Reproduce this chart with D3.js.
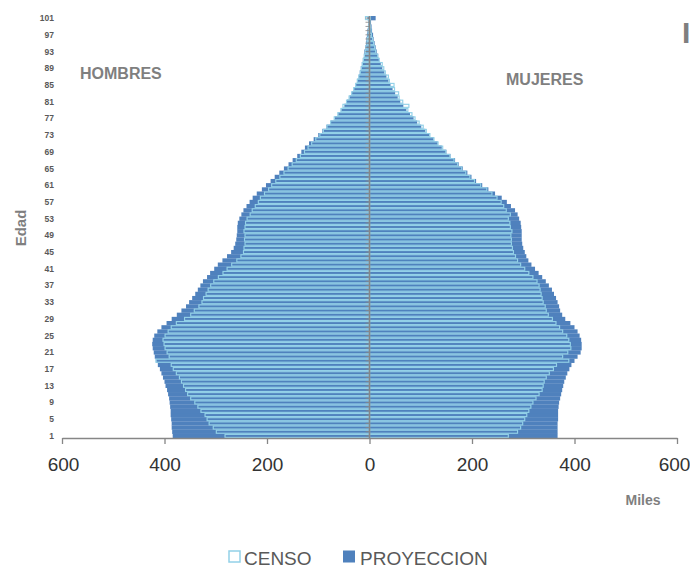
<!DOCTYPE html>
<html>
<head>
<meta charset="utf-8">
<script src="https://cdn.jsdelivr.net/npm/d3@7"></script>
<style>
  html, body { margin: 0; padding: 0; background: #fff; }
  svg { display: block; }
</style>
</head>
<body>
<svg id="chart" width="690" height="569"></svg>
<script>
// ---- DATA (thousands of people, ages 1..101) ----
const ages = d3.range(1, 102);

const menProy = [
  384,385,386,386,387,388,388,389,390,391,
  393,395,398,400,403,406,409,413,416,419,
  421,423,424,423,420,414,406,396,386,376,
  367,358,352,346,340,335,330,325,317,311,
  303,296,287,278,270,265,262,260,259,258,
  258,257,254,250,246,240,234,228,220,210,
  202,193,185,176,167,158,150,141,133,126,
  118,109,100,92,84,76,68,61,55,49,
  44,39,34,30,27,24,21,19,17,15,
  13,11,10,8,7,6,5,4,3,2,
  4
];
const menCenso = [
  283,300,306,314,318,322,330,336,342,350,
  356,360,364,368,372,378,384,388,418,392,
  396,400,402,404,400,394,388,378,362,350,
  343,334,328,325,320,316,311,305,296,287,
  279,270,260,252,247,246,244,245,244,246,
  244,243,240,234,230,224,218,214,206,198,
  192,184,176,168,160,152,144,136,128,121,
  114,106,98,91,84,77,70,63,57,53,
  46,41,36,32,28,25,22,19,17,15,
  13,11,9,8,6,5,4,3,3,2,
  9
];
const womenProy = [
  367,367,367,367,368,368,368,369,370,372,
  374,376,378,380,383,386,390,394,400,406,
  412,414,414,413,410,406,400,392,382,376,
  372,370,367,364,360,356,350,344,337,330,
  323,316,310,306,303,300,298,297,297,297,
  296,295,292,289,284,276,268,258,245,232,
  220,208,199,191,182,174,167,158,150,141,
  133,125,117,109,101,93,86,79,72,66,
  60,55,50,45,41,37,33,29,25,22,
  19,17,14,12,10,8,7,5,4,3,
  12
];
const womenCenso = [
  272,290,296,300,304,308,312,316,320,326,
  332,338,340,342,346,352,360,366,390,378,
  388,394,393,390,386,378,372,365,358,350,
  346,344,340,338,336,334,332,328,320,312,
  304,296,290,286,282,280,278,278,277,279,
  276,275,272,276,268,263,258,250,240,230,
  218,206,197,189,181,173,166,158,150,144,
  135,127,119,112,106,98,90,84,76,78,
  66,59,58,50,49,40,38,32,29,26,
  20,17,13,11,9,7,5,4,3,2,
  3
];

const xTicks = [-600, -400, -200, 0, 200, 400, 600];
const yTickAges = d3.range(1, 102, 4);

const seriesNames = ["CENSO", "PROYECCION"];

// ---- STYLE ----
const colProy = "#4F81BD";
const colCenso = "#93D1E8";
const colAxis = "#868686";
const narrow = "'Liberation Sans Narrow', 'Arial Narrow', 'Liberation Sans', Arial, sans-serif";

const svg = d3.select("#chart");

const x = d3.scaleLinear().domain([-600, 600]).range([62, 677]);
const y = d3.scaleBand().domain(ages.slice().reverse()).range([16, 438]).paddingInner(0).paddingOuter(0);
const bw = y.bandwidth();

const rows = ages.map((a, i) => ({
  age: a, mP: menProy[i], mC: menCenso[i], wP: womenProy[i], wC: womenCenso[i]
}));

// PROYECCION bars (filled)
const gP = svg.append("g");
gP.selectAll("rect.mp").data(rows).join("rect")
  .attr("x", d => x(-d.mP)).attr("width", d => x(0) - x(-d.mP))
  .attr("y", d => y(d.age)).attr("height", bw + 0.15)
  .attr("fill", colProy);
gP.selectAll("rect.wp").data(rows).join("rect")
  .attr("x", x(0)).attr("width", d => x(d.wP) - x(0))
  .attr("y", d => y(d.age)).attr("height", bw + 0.15)
  .attr("fill", colProy);

// CENSO bars (outline only)
const sw = 1.15;
const gC = svg.append("g");
gC.selectAll("rect.mc").data(rows).join("rect")
  .attr("x", d => x(-d.mC) + sw / 2).attr("width", d => x(0) - x(-d.mC) - sw / 2)
  .attr("y", d => y(d.age) + sw / 2).attr("height", bw - sw)
  .attr("fill", "none").attr("stroke", colCenso).attr("stroke-width", sw);
gC.selectAll("rect.wc").data(rows).join("rect")
  .attr("x", x(0)).attr("width", d => x(d.wC) - x(0) - sw / 2)
  .attr("y", d => y(d.age) + sw / 2).attr("height", bw - sw)
  .attr("fill", "none").attr("stroke", colCenso).attr("stroke-width", sw);

// Vertical category axis at zero with tick marks
const yAxisG = svg.append("g").attr("transform", `translate(${x(0)},0)`);
yAxisG.append("line").attr("x1", 0).attr("x2", 0).attr("y1", 16).attr("y2", 438)
  .attr("stroke", colAxis).attr("stroke-width", 1.6);
yAxisG.selectAll("line.tk").data(ages).join("line")
  .attr("x1", -4).attr("x2", 0)
  .attr("y1", d => y(d) + bw / 2).attr("y2", d => y(d) + bw / 2)
  .attr("stroke", colAxis).attr("stroke-width", 0.8);

// Y tick labels (left)
svg.append("g").selectAll("text").data(yTickAges).join("text")
  .attr("x", 54).attr("y", d => y(d) + bw / 2 + 3)
  .attr("text-anchor", "end")
  .attr("font-family", "Liberation Sans, Arial, sans-serif")
  .attr("font-size", 8.5).attr("font-weight", "bold")
  .attr("fill", "#595959")
  .text(d => d);

// X axis
const xAxis = d3.axisBottom(x).tickValues(xTicks).tickSize(6).tickSizeOuter(0)
  .tickFormat(d => Math.abs(d));
const xg = svg.append("g").attr("transform", "translate(0,438)").call(xAxis);
xg.select(".domain").attr("stroke", colAxis).attr("stroke-width", 1.3);
xg.selectAll(".tick line").attr("stroke", colAxis).attr("stroke-width", 1.3);
xg.selectAll(".tick text")
  .attr("y", 20).attr("dy", "0.71em")
  .attr("dx", d => d === 600 ? -3 : (d === -600 ? 1 : 0))
  .attr("font-family", narrow)
  .attr("font-size", 19).attr("fill", "#333333");

// Text labels
const lab = (t, xx, yy, size, opts = {}) => svg.append("text")
  .attr("x", xx).attr("y", yy).attr("font-size", size)
  .attr("font-family", "Liberation Sans, Arial, sans-serif")
  .attr("font-weight", opts.weight || "bold")
  .attr("fill", opts.fill || "#7F7F7F")
  .attr("text-anchor", opts.anchor || "start")
  .text(t);

lab("HOMBRES", 80, 79, 16);
lab("MUJERES", 506, 85, 16);
lab("Miles", 643, 505, 14, { anchor: "middle" });
svg.append("text")
  .attr("transform", "translate(26,228) rotate(-90)")
  .attr("text-anchor", "middle")
  .attr("font-family", "Liberation Sans, Arial, sans-serif")
  .attr("font-size", 15).attr("font-weight", "bold").attr("fill", "#7F7F7F")
  .text("Edad");
lab("I", 682, 43, 30, { fill: "#7F7F7F" });

// Legend
const leg = svg.append("g");
leg.append("rect").attr("x", 229).attr("y", 551).attr("width", 11).attr("height", 11)
  .attr("fill", "none").attr("stroke", colCenso).attr("stroke-width", 1.5);
leg.append("text").attr("x", 244).attr("y", 565)
  .attr("font-family", "Liberation Sans, Arial, sans-serif").attr("font-size", 19)
  .attr("fill", "#595959").text(seriesNames[0]);
leg.append("rect").attr("x", 343).attr("y", 550.5).attr("width", 12).attr("height", 12)
  .attr("fill", colProy);
leg.append("text").attr("x", 360).attr("y", 565)
  .attr("font-family", "Liberation Sans, Arial, sans-serif").attr("font-size", 19)
  .attr("fill", "#595959").text(seriesNames[1]);
</script>
</body>
</html>
